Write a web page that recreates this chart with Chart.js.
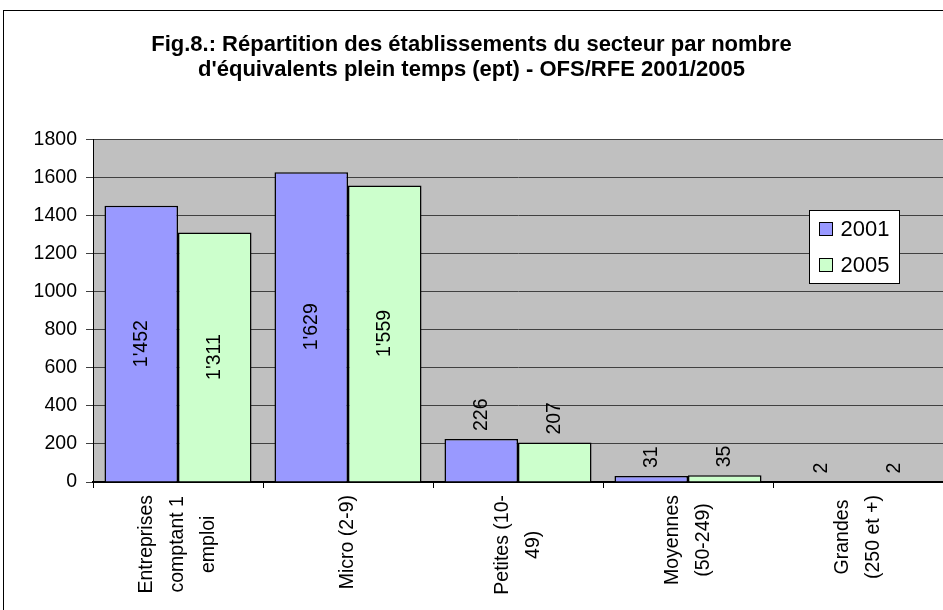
<!DOCTYPE html>
<html lang="fr">
<head>
<meta charset="utf-8">
<style>
html, body { margin: 0; padding: 0; background: #fff; }
#cadre { width: 943px; height: 610px; }
</style>
</head>
<body>
<div id="cadre"><canvas id="graphique" width="943" height="610"></canvas></div>
<script src="https://cdn.jsdelivr.net/npm/chart.js@4.4.0/dist/chart.umd.min.js"></script>
<script>
// données
const categories = [
    ['Entreprises', 'comptant 1', 'emploi'],
    ['Micro (2-9)'],
    ['Petites (10-', '49)'],
    ['Moyennes', '(50-249)'],
    ['Grandes', '(250 et +)']
];
const annees = ['2001', '2005'];
const valeurs2001 = [1452, 1629, 226, 31, 2];
const valeurs2005 = [1311, 1559, 207, 35, 2];
const graduations = [0, 200, 400, 600, 800, 1000, 1200, 1400, 1600, 1800];

const titre = [
    'Fig.8.: Répartition des établissements du secteur par nombre',
    "d'équivalents plein temps (ept) - OFS/RFE 2001/2005"
];

const POLICE = '"Liberation Sans", Arial, sans-serif';

function formater(v) {
    // séparateur de milliers suisse
    return String(v).replace(/\B(?=(\d{3})+(?!\d))/g, "'");
}

const fondPlugin = {
    id: 'fond',
    beforeDraw(chart) {
        const ctx = chart.ctx;
        const a = chart.chartArea;
        ctx.save();
        ctx.fillStyle = '#ffffff';
        ctx.fillRect(0, 0, chart.width, chart.height);
        ctx.strokeStyle = '#000000';
        ctx.lineWidth = 1;
        ctx.strokeRect(3.5, 10.5, 1000, 1000);
        ctx.fillStyle = '#c0c0c0';
        ctx.fillRect(a.left, a.top, a.right - a.left, a.bottom - a.top);
        ctx.restore();
    }
};

const etiquettesPlugin = {
    id: 'etiquettes',
    afterDatasetsDraw(chart) {
        const ctx = chart.ctx;
        ctx.save();
        ctx.font = '19.5px ' + POLICE;
        ctx.fillStyle = '#000';
        ctx.textBaseline = 'middle';
        chart.data.datasets.forEach(function (ds, i) {
            const meta = chart.getDatasetMeta(i);
            meta.data.forEach(function (bar, j) {
                const texte = formater(ds.data[j]);
                const largeur = ctx.measureText(texte).width;
                const hauteur = bar.base - bar.y;
                ctx.save();
                if (hauteur > largeur + 30) {
                    ctx.translate(bar.x, (bar.y + bar.base) / 2);
                    ctx.textAlign = 'center';
                } else {
                    ctx.translate(bar.x, bar.y - 8);
                    ctx.textAlign = 'left';
                }
                ctx.rotate(-Math.PI / 2);
                ctx.fillText(texte, 0, 0);
                ctx.restore();
            });
        });
        ctx.restore();
    }
};

const axeXPlugin = {
    id: 'axeX',
    afterDraw(chart) {
        const ctx = chart.ctx;
        const echelle = chart.scales.x;
        const interligne = 31;
        ctx.save();
        ctx.font = '19.5px ' + POLICE;
        ctx.fillStyle = '#000';
        ctx.textAlign = 'center';
        ctx.textBaseline = 'middle';
        categories.forEach(function (lignes, i) {
            const cx = echelle.getPixelForValue(i);
            let maxL = 0;
            lignes.forEach(function (l) { maxL = Math.max(maxL, ctx.measureText(l).width); });
            const cy = echelle.top + 13 + maxL / 2;
            lignes.forEach(function (l, k) {
                const x = cx + (k - (lignes.length - 1) / 2) * interligne;
                ctx.save();
                ctx.translate(x, cy);
                ctx.rotate(-Math.PI / 2);
                ctx.fillText(l, 0, 0);
                ctx.restore();
            });
        });
        ctx.restore();
    }
};

const legendePlugin = {
    id: 'legendeInterne',
    afterDraw(chart) {
        const ctx = chart.ctx;
        const bx = 809.5, by = 210.5, bw = 90, bh = 73;
        ctx.save();
        ctx.fillStyle = '#fff';
        ctx.fillRect(bx, by, bw, bh);
        ctx.strokeStyle = '#000';
        ctx.lineWidth = 1;
        ctx.strokeRect(bx, by, bw, bh);
        ctx.font = '22px ' + POLICE;
        ctx.textBaseline = 'middle';
        chart.data.datasets.forEach(function (ds, i) {
            const y = by + 12 + i * 36;
            ctx.fillStyle = ds.backgroundColor;
            ctx.fillRect(bx + 10, y, 13, 13);
            ctx.strokeRect(bx + 10, y, 13, 13);
            ctx.fillStyle = '#000';
            ctx.fillText(ds.label, bx + 31, y + 7);
        });
        ctx.restore();
    }
};

new Chart(document.getElementById('graphique'), {
    type: 'bar',
    data: {
        labels: categories,
        datasets: [
            {
                label: annees[0],
                data: valeurs2001,
                backgroundColor: '#9999ff',
                borderColor: '#000000',
                borderWidth: 1.5,
                categoryPercentage: 0.865,
                barPercentage: 1.0
            },
            {
                label: annees[1],
                data: valeurs2005,
                backgroundColor: '#ccffcc',
                borderColor: '#000000',
                borderWidth: 1.5,
                categoryPercentage: 0.865,
                barPercentage: 1.0
            }
        ]
    },
    options: {
        responsive: false,
        animation: false,
        devicePixelRatio: 1,
        layout: { padding: { left: 0, right: 0, top: 0, bottom: 0 } },
        plugins: {
            legend: { display: false },
            tooltip: { enabled: false },
            title: {
                display: true,
                text: titre,
                color: '#000',
                font: { family: POLICE, size: 22, weight: 'bold', lineHeight: 1.15 },
                padding: { top: 32, bottom: 57 }
            }
        },
        scales: {
            x: {
                offset: true,
                grid: { drawOnChartArea: false, offset: true, tickLength: 6, color: '#000' },
                border: { color: '#000', width: 2 },
                ticks: { display: false },
                afterFit(scale) { scale.height = 128; }
            },
            y: {
                min: 0,
                max: 1800,
                afterBuildTicks(scale) {
                    scale.ticks = graduations.map(function (v) { return { value: v }; });
                },
                grid: { color: '#404040', tickLength: 7, lineWidth: 1 },
                border: { color: '#000', width: 1 },
                ticks: {
                    color: '#000',
                    padding: 9,
                    font: { family: POLICE, size: 19.5 },
                    callback: function (v) { return String(v); }
                },
                afterFit(scale) { scale.width = 93; }
            }
        }
    },
    plugins: [fondPlugin, etiquettesPlugin, axeXPlugin, legendePlugin]
});
</script>
</body>
</html>
